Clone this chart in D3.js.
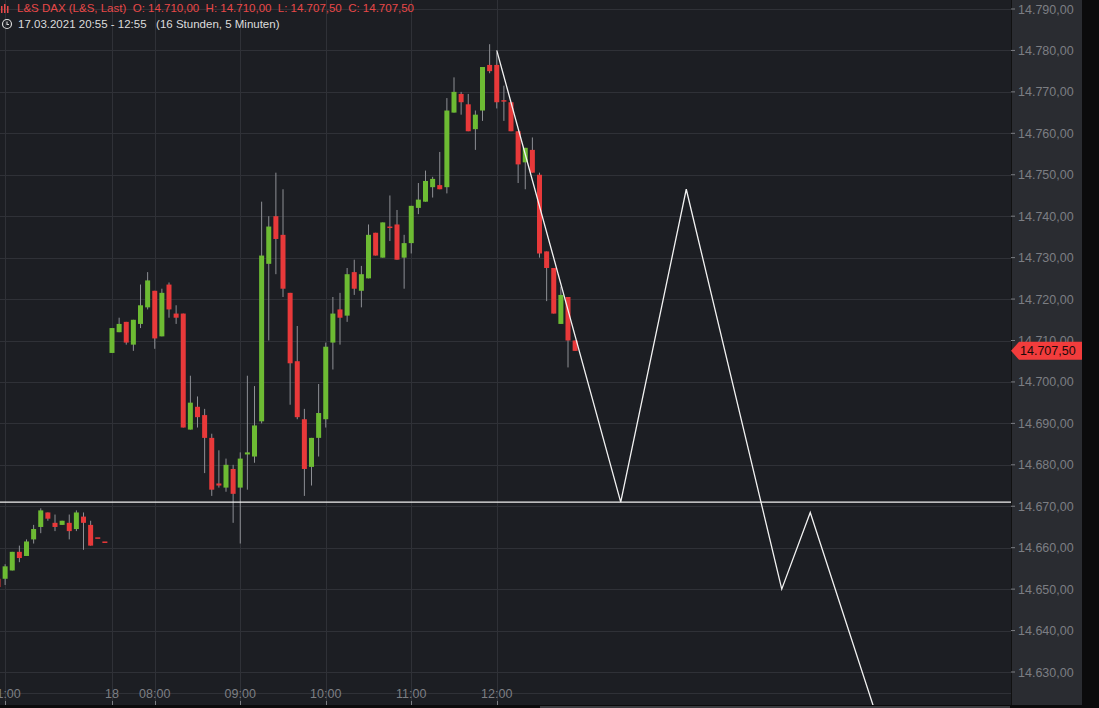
<!DOCTYPE html>
<html>
<head>
<meta charset="utf-8">
<script src="https://cdn.jsdelivr.net/npm/d3@7"></script>
<style>
  html, body { margin: 0; padding: 0; background: #0b0b0c; overflow: hidden; }
  svg text { font-family: "Liberation Sans", Arial, sans-serif; white-space: pre; }
</style>
</head>
<body>
<svg id="chart" width="1099" height="708"></svg>
<script>
// candles, 5 minutes each: [open, high, low, close]
var candles = [
  [14652.5,14652.5,14650.5,14650.5],[14652.5,14656,14651,14655.5],[14654.5,14659,14654.5,14659],
  [14659,14660.5,14656.5,14657.5],[14658,14662,14658,14661.5],[14662,14665.5,14661,14664.5],
  [14665,14669.5,14663.5,14669],[14668.5,14668.5,14666.5,14667],[14666,14668,14664,14665],
  [14665.5,14666.5,14665.5,14666.5],[14666,14668,14662,14664],[14664.5,14669,14664,14668.5],
  [14667.5,14668.5,14659.5,14666],[14665.5,14666.5,14660.5,14660.5],[14662.5,14662.5,14662.5,14662.5],
  [14661.5,14661.5,14661.5,14661.5],
  [14707,14713,14707,14713],[14712,14715.5,14712,14714],[14714.5,14714.5,14709,14709.5],
  [14709,14715,14707.5,14715],[14714,14723.5,14713,14718.5],[14718,14726.5,14717.5,14724.5],
  [14722,14722,14708,14710.5],[14711,14722.5,14711,14721.5],[14723.5,14724,14715.5,14717.5],
  [14716.5,14718.5,14714,14715.5],[14716.5,14716.5,14689,14689],[14688.5,14701.5,14688.5,14695],
  [14694,14696.5,14689,14691.5],[14692,14693.5,14678,14686.5],[14686.5,14687.5,14672.5,14674],
  [14675.5,14683.5,14674.5,14675],[14674.5,14681.5,14673.5,14680],[14679,14680,14666,14673],
  [14674.5,14683,14661,14681.5],[14682.5,14701.5,14674,14683],[14682,14699,14680.5,14689.5],
  [14690.5,14743.5,14690,14730.5],[14728.5,14740,14710,14737.5],[14740,14750.5,14726,14734.5],
  [14735.5,14746.5,14720.5,14722.5],[14721.5,14721.5,14694.5,14704.5],[14705,14713.5,14691,14691.5],
  [14691,14693.5,14672.5,14679],[14679.5,14686.5,14675,14686.5],[14686.5,14699.5,14682,14692.5],
  [14691,14709.5,14689,14708.5],[14709.5,14720.5,14703,14716.5],[14717.5,14721.5,14709,14715.5],
  [14716,14727.5,14714.5,14726],[14726.5,14729.5,14721,14722.5],[14722,14728,14718,14726],
  [14725,14738,14725,14735.5],[14736,14736,14730.5,14730.5],[14730,14738.5,14730,14738.5],
  [14737.5,14745,14734,14737.5],[14738,14741.5,14729.5,14729.5],[14730,14735.5,14722.5,14733.5],
  [14733.5,14742.5,14731,14742.5],[14742,14748,14740.5,14744],[14743.5,14751,14743.5,14748.5],
  [14747,14749.5,14744.5,14749],[14747.5,14755.5,14746.5,14746.5],[14747,14768.5,14745.5,14765.5],
  [14765,14773.5,14765,14770],[14769.5,14770,14764.5,14767.5],[14767,14769.5,14760.5,14760.5],
  [14761,14765.5,14756,14764.5],[14765.5,14776,14763,14776],[14776.5,14781.5,14774.5,14775],
  [14776.5,14779.5,14766,14767.5],[14768,14771.5,14763,14768],[14767.5,14767.5,14760.5,14760.5],
  [14760.5,14760.5,14748,14752.5],[14753,14756.5,14746.5,14756.5],[14756,14759,14750.5,14750.5],
  [14750,14750.5,14730,14731],[14731.5,14731.5,14719.5,14727.5],[14727.5,14727.5,14716.5,14716.5],
  [14714,14723,14714,14721],[14720.5,14720.5,14703.5,14710],[14710,14710,14707.5,14707.5]
];

// time axis: candle index -> label
var timeTicks = [1, 16, 22, 34, 46, 58, 70];
var timeLabels = ["21:00", "18", "08:00", "09:00", "10:00", "11:00", "12:00"];

// price axis
var priceTicks = [14630,14640,14650,14660,14670,14680,14690,14700,14710,14720,14730,14740,14750,14760,14770,14780,14790];

// drawn lines (candle index, price)
var supportLevel = 14671;
var projection = [[70,14780],[87.4,14671],[96.6,14746.5],[110,14650],[114,14668.5],[123,14621],[125,14616]];

var lastPrice = 14707.5;

var W = 1099, H = 708, plotRight = 1011, plotBottom = 705, axisRight = 1082;

var svg = d3.select("#chart");

var x = d3.scaleLinear().domain([0, 1]).range([-2, 5.125]);
var y = d3.scaleLinear().domain([14790, 14630]).range([9, 672]);

// backgrounds
svg.append("rect").attr("width", W).attr("height", H).attr("fill", "#0b0b0c");
svg.append("rect").attr("width", plotRight).attr("height", plotBottom).attr("fill", "#1c1e23");
svg.append("rect").attr("x", plotRight).attr("width", axisRight - plotRight).attr("height", plotBottom).attr("fill", "#2a2c31");
svg.append("rect").attr("x", 540).attr("y", plotBottom + 1).attr("width", 470).attr("height", 2).attr("fill", "#3a3c40");

svg.append("clipPath").attr("id", "plot").append("rect")
  .attr("width", plotRight).attr("height", plotBottom);

var plot = svg.append("g").attr("clip-path", "url(#plot)");

// grid
plot.selectAll(".hg").data(priceTicks.concat([14625])).enter().append("line")
  .attr("x1", 0).attr("x2", plotRight)
  .attr("y1", function(d) { return Math.round(y(d)) + 0.5; })
  .attr("y2", function(d) { return Math.round(y(d)) + 0.5; })
  .attr("stroke", "#2f3137");
plot.selectAll(".vg").data(timeTicks).enter().append("line")
  .attr("y1", 0).attr("y2", plotBottom)
  .attr("x1", function(d) { return Math.round(x(d)) + 0.5; })
  .attr("x2", function(d) { return Math.round(x(d)) + 0.5; })
  .attr("stroke", "#2f3137");

// candles
var up = "#6dbb33", down = "#e8393a";
var g = plot.selectAll(".c").data(candles).enter().append("g");
g.append("line")
  .attr("x1", function(d, i) { return x(i); })
  .attr("x2", function(d, i) { return x(i); })
  .attr("y1", function(d) { return y(d[1]); })
  .attr("y2", function(d) { return y(d[2]); })
  .attr("stroke", "#8d8f94").attr("stroke-width", 1);
g.append("rect")
  .attr("x", function(d, i) { return x(i) - 2.5; })
  .attr("width", 5)
  .attr("y", function(d) { return y(Math.max(d[0], d[3])); })
  .attr("height", function(d) { return Math.max(1.5, Math.abs(y(d[0]) - y(d[3]))); })
  .attr("fill", function(d) { return d[3] > d[0] ? up : down; });

// support line
plot.append("line")
  .attr("x1", 0).attr("x2", plotRight)
  .attr("y1", y(supportLevel)).attr("y2", y(supportLevel))
  .attr("stroke", "#f2f2f2").attr("stroke-width", 1.3);

// projection
plot.append("path")
  .attr("d", d3.line().x(function(d) { return x(d[0]); }).y(function(d) { return y(d[1]); })(projection))
  .attr("fill", "none").attr("stroke", "#f2f2f2").attr("stroke-width", 1.3);

// price axis
var fmt = function(d) { return d3.format(",.2f")(d).replace(/,/g, "#").replace(".", ",").replace(/#/g, "."); };
svg.append("line").attr("x1", plotRight + 0.5).attr("x2", plotRight + 0.5)
  .attr("y1", 0).attr("y2", plotBottom).attr("stroke", "#111");
svg.selectAll(".pt").data(priceTicks).enter().append("text")
  .attr("x", 1018).attr("y", function(d) { return y(d) + 4.5; })
  .attr("fill", "#7c7e83").attr("font-size", 12.5)
  .text(fmt);
svg.selectAll(".ptm").data(priceTicks).enter().append("line")
  .attr("x1", plotRight).attr("x2", plotRight + 4)
  .attr("y1", function(d) { return y(d); }).attr("y2", function(d) { return y(d); })
  .attr("stroke", "#7c7e83");

// last price marker
var ly = y(lastPrice);
svg.append("path")
  .attr("d", "M" + plotRight + "," + ly + "L" + (plotRight + 8) + "," + (ly - 9) + "H" + axisRight + "V" + (ly + 9) + "H" + (plotRight + 8) + "Z")
  .attr("fill", "#f23c3c");
svg.append("text").attr("x", 1020).attr("y", ly + 4.5)
  .attr("fill", "#1a0a0a").attr("font-size", 12.5).text(fmt(lastPrice));

// time axis
svg.selectAll(".tt").data(timeTicks).enter().append("text")
  .attr("x", function(d) { return x(d); }).attr("y", 698)
  .attr("text-anchor", "middle").attr("fill", "#7c7e83").attr("font-size", 12.5)
  .text(function(d, i) { return timeLabels[i]; });
svg.selectAll(".ttm").data(timeTicks).enter().append("line")
  .attr("x1", function(d) { return Math.round(x(d)) + 0.5; })
  .attr("x2", function(d) { return Math.round(x(d)) + 0.5; })
  .attr("y1", 701).attr("y2", 705).attr("stroke", "#7c7e83");

// header
var hg = svg.append("g");
[0, 3, 6].forEach(function(dx, k) {
  hg.append("rect").attr("x", 1 + dx).attr("y", k === 1 ? 4 : 6).attr("width", 1.5)
    .attr("height", k === 1 ? 9 : 7).attr("fill", "#e84848");
});
hg.append("text").attr("x", 17).attr("y", 12).attr("fill", "#e84848").attr("font-size", 11.5)
  .text("L&S DAX (L&S, Last)  O: 14.710,00  H: 14.710,00  L: 14.707,50  C: 14.707,50");
hg.append("circle").attr("cx", 7).attr("cy", 24).attr("r", 4.5).attr("fill", "none").attr("stroke", "#d8d8d8").attr("stroke-width", 1.2);
hg.append("path").attr("d", "M7,21.5V24.5H9").attr("fill", "none").attr("stroke", "#d8d8d8").attr("stroke-width", 1.1);
hg.append("text").attr("x", 18).attr("y", 28).attr("fill", "#dcdcdc").attr("font-size", 11.5)
  .text("17.03.2021 20:55 - 12:55   (16 Stunden, 5 Minuten)");
</script>
</body>
</html>
